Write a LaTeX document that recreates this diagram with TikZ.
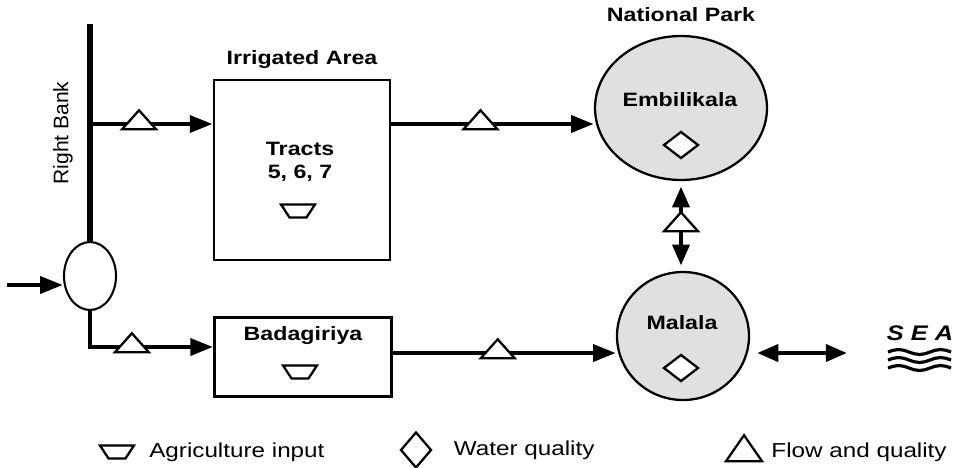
\documentclass[tikz,border=0pt]{standalone}
\usepackage{fontspec}
\newfontfamily\lblfont[FakeStretch=1.2]{Liberation Sans}
\newfontfamily\rotfont{Liberation Sans}
\usetikzlibrary{positioning, arrows.meta, shapes.geometric, calc}

\tikzset{
  flowline/.style={-{Triangle[length=13pt,width=9.5pt]}, line width=2.6pt},
  twoway/.style={{Triangle[length=12pt,width=9.5pt]}-{Triangle[length=12pt,width=9.5pt]}, line width=2.6pt},
  flowmark/.style={draw, fill=white, line width=1.3pt, isosceles triangle, shape border rotate=90,
    isosceles triangle stretches, minimum width=0.68cm, minimum height=0.38cm, inner sep=0.5pt, yshift=1.2pt},
  qualmark/.style={draw, fill=white, line width=1.3pt, diamond, minimum width=0.7cm, minimum height=0.54cm, inner sep=0pt},
  agrimark/.style={draw, line width=1.3pt, trapezium, shape border rotate=180, trapezium stretches,
    trapezium left angle=63, trapezium right angle=63, minimum width=0.68cm, minimum height=0.26cm, inner sep=0.5pt},
  lagoon/.style={draw, ellipse, line width=1.3pt, fill=gray!24},
  legendtext/.style={font=\lblfont\fontsize{11.5}{13}\selectfont},
}

\begin{document}
\begin{tikzpicture}[x=0.02cm, y=-0.02cm, font=\lblfont\bfseries\fontsize{11}{13}\selectfont]
  \useasboundingbox (0,0) rectangle (963,467);

  % river and diversion
  \coordinate (banktop) at (90,24);
  \coordinate (inflow) at (7,285);
  \node [draw, ellipse, line width=1.2pt, minimum width=1.04cm, minimum height=1.36cm] (junc) at (90,276) {};
  \node [font=\rotfont\fontsize{12}{14}\selectfont, rotate=90] (bank) at (63,133) {Right Bank};

  % irrigated areas
  \begin{scope}[every node/.style={draw, line width=1.6pt, inner sep=0pt}]
    \node [minimum width=3.52cm, minimum height=3.6cm] (irr) at (302,170) {};
    \node [minimum width=3.54cm, minimum height=1.58cm] (bada) at (303,357) {};
  \end{scope}
  \node [above=2pt of irr] (irrtitle) {Irrigated Area};
  \node [align=center] (tracts) at (300,162) {Tracts\\5, 6, 7};
  \node [agrimark] (agri1) at (298,211) {};
  \node (badatext) at (303,336) {Badagiriya};
  \node [agrimark] (agri2) at (300,372) {};

  % lagoons
  \node [lagoon, minimum width=3.44cm, minimum height=2.88cm] (embi) at (681,108) {};
  \node [lagoon, minimum width=2.64cm, minimum height=2.56cm] (mal) at (683,336) {};
  \node [above=4pt of embi] (park) {National Park};
  \node (embitext) at (680,100) {Embilikala};
  \node [qualmark] (qual1) at (681,145) {};
  \node (maltext) at (682,323) {Malala};
  \node [qualmark] (qual2) at (681,368) {};

  % sea
  \node [font=\lblfont\bfseries\itshape\fontsize{12}{14}\selectfont] (sea) at (920,333) {S E A};
  \foreach \wy in {352,360,368}
    \draw [line width=1.8pt] (888,\wy) sin ++(10.5,-2.5) cos ++(10.5,2.5) sin ++(10.5,2.5)
      cos ++(10.5,-2.5) sin ++(10.5,-2.5) cos ++(10.5,2.5);

  % flows
  \coordinate (toprow) at (0,124);
  \coordinate (lowrow) at (0,347);
  \coordinate (outrow) at (0,353);
  \coordinate (seaend) at (847,353);

  \draw [line width=3pt] (banktop) -- (junc.north);
  \draw [flowline] (inflow) -- (inflow -| junc.west);
  \draw [flowline] (banktop |- toprow) -- node [flowmark, pos=0.4] (fm1) {} (toprow -| irr.west);
  \draw [flowline] (junc.south) |- node [flowmark, pos=0.67] (fm2) {} (lowrow -| bada.west);
  \draw [flowline] (toprow -| irr.east) -- node [flowmark, pos=0.44] (fm3) {} (toprow -| embi.west);
  \draw [flowline] (outrow -| bada.east) -- node [flowmark, pos=0.47] (fm4) {} (outrow -| mal.west);
  \draw [twoway, shorten <=3pt, shorten >=3pt] (embi.south) -- node [flowmark] (fm5) {} (embi.south |- mal.north);
  \draw [twoway, shorten <=4pt] (outrow -| mal.east) -- (seaend);

  % legend
  \node [agrimark] (lg1) at (117,452) {};
  \node [legendtext, right=0.24cm of lg1] (lg1text) {Agriculture input};
  \node [qualmark, minimum width=0.62cm, minimum height=0.72cm] (lg2) at (416,450) {};
  \node [legendtext, right=0.3cm of lg2] (lg2text) {Water quality};
  \node [flowmark, yshift=-1.2pt, minimum width=0.72cm, minimum height=0.52cm] (lg3) at (744,452) {};
  \node [legendtext, right=0.16cm of lg3] (lg3text) {Flow and quality};
\end{tikzpicture}
\end{document}
